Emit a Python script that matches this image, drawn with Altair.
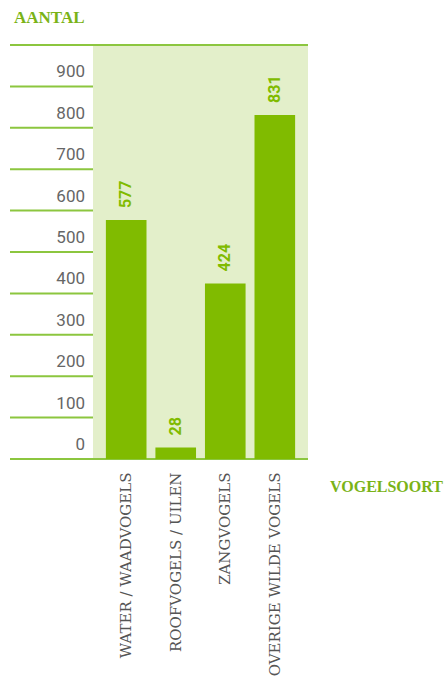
import altair as alt
import pandas as pd

categories = ["WATER / WAADVOGELS", "ROOFVOGELS / UILEN", "ZANGVOGELS", "OVERIGE WILDE VOGELS"]
values = [577, 28, 424, 831]
tick_values = [0, 100, 200, 300, 400, 500, 600, 700, 800, 900]
frame_values = [0, 1000]

GREEN = "#80bb00"
LINE = "#8cc63f"
BG = "#e3efca"
TITLE = "#7ab317"

bars_df = pd.DataFrame({"soort": categories, "aantal": values})
ticks_df = pd.DataFrame({"v": tick_values, "label": [str(t) for t in tick_values]})
frame_df = pd.DataFrame({"v": frame_values})

W, H = 298, 414

yscale = alt.Scale(domain=[0, 1000], nice=False, zero=True)
xscale = alt.Scale(domain=categories, range=[83, 298], paddingInner=0.18, paddingOuter=0.26)

bg = alt.Chart(pd.DataFrame({"a": [1]})).mark_rect(color=BG).encode(
    x=alt.value(83), x2=alt.value(W), y=alt.value(0), y2=alt.value(H)
)

short_rules = alt.Chart(ticks_df).mark_rule(color=LINE, strokeWidth=2).encode(
    y=alt.Y("v:Q", scale=yscale, axis=None), x=alt.value(0), x2=alt.value(83)
)

long_rules = alt.Chart(frame_df).mark_rule(color=LINE, strokeWidth=2).encode(
    y=alt.Y("v:Q", scale=yscale, axis=None), x=alt.value(0), x2=alt.value(W)
)

bars = alt.Chart(bars_df).mark_bar(color=GREEN).encode(
    x=alt.X("soort:N", scale=xscale, sort=categories,
            axis=alt.Axis(title=None, labelAngle=270, labelAlign="right", labelBaseline="middle",
                          labelPadding=13, domain=False, ticks=False, labelFont="DejaVu Serif",
                          labelFontSize=15, labelColor="#555555", labelLimit=400)),
    y=alt.Y("aantal:Q", scale=yscale, axis=None),
)

value_labels = alt.Chart(bars_df).mark_text(
    angle=270, align="left", baseline="middle", dx=12, font="Roboto", fontWeight="bold",
    fontSize=16, color=GREEN
).encode(
    x=alt.X("soort:N", scale=xscale, sort=categories, bandPosition=0.5),
    y=alt.Y("aantal:Q", scale=yscale, axis=None),
    text=alt.Text("aantal:Q"),
)

tick_labels = alt.Chart(ticks_df).mark_text(
    align="right", baseline="bottom", dy=-5, font="Roboto", fontWeight="normal", fontSize=17, color="#666666"
).encode(
    y=alt.Y("v:Q", scale=yscale, axis=None), x=alt.value(75), text="label:N"
)

title_y = alt.Chart(pd.DataFrame({"t": ["AANTAL"]})).mark_text(
    align="left", baseline="middle", font="Liberation Serif", fontWeight="bold", fontSize=17, color=TITLE
).encode(x=alt.value(4), y=alt.value(-27), text="t:N")

title_x = alt.Chart(pd.DataFrame({"t": ["VOGELSOORT"]})).mark_text(
    align="left", baseline="middle", font="Liberation Serif", fontWeight="bold", fontSize=16, color=TITLE
).encode(x=alt.value(320), y=alt.value(28 + H), text="t:N")

chart = alt.layer(bg, short_rules, long_rules, bars, value_labels, tick_labels, title_y, title_x).properties(
    width=W, height=H,
    autosize=alt.AutoSizeParams(type="none"),
    padding={"left": 10, "top": 45, "right": 447 - 10 - W, "bottom": 682 - 45 - H},
    background="white",
).configure_view(stroke=None)

chart.save("out.html", embed_options={"renderer": "svg", "actions": False})
